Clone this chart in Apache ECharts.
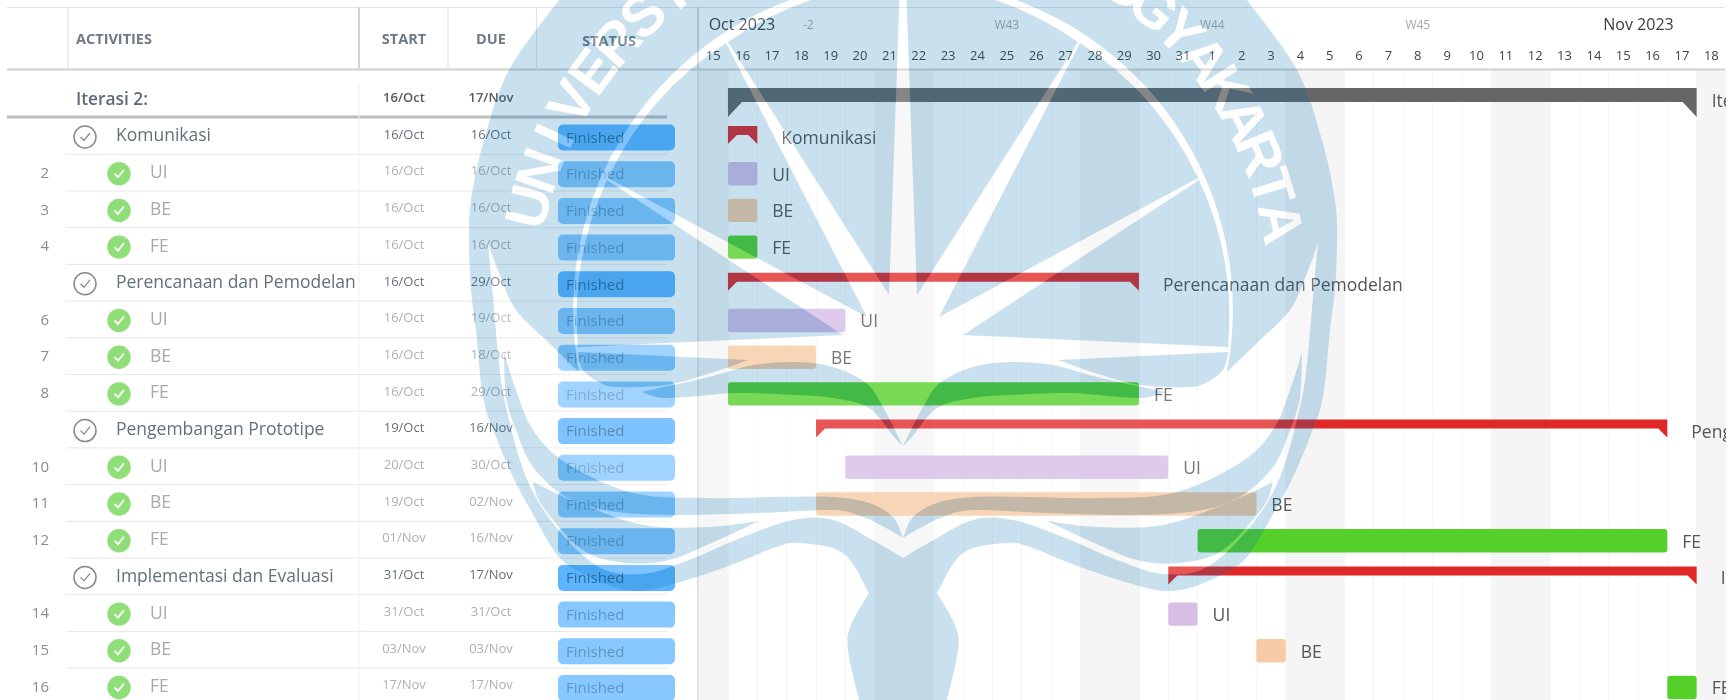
<!DOCTYPE html>
<html>
<head>
<meta charset="utf-8">
<title>Gantt Iterasi 2</title>
<script src="https://cdn.jsdelivr.net/npm/echarts@6/dist/echarts.min.js"></script>
<style>
  html, body { margin: 0; padding: 0; background: #fff; overflow: hidden; }
  #chart, #logo { position: absolute; left: 0; top: 0; width: 1733px; height: 700px; }
  #logo { opacity: 0.21; pointer-events: none; }
</style>
</head>
<body>
<div id="chart"></div>
<div id="logo"></div>
<script>
const dayCats = [
  '15/Oct', '16/Oct', '17/Oct', '18/Oct', '19/Oct', '20/Oct', '21/Oct', '22/Oct', '23/Oct', '24/Oct',
  '25/Oct', '26/Oct', '27/Oct', '28/Oct', '29/Oct', '30/Oct', '31/Oct', '01/Nov', '02/Nov', '03/Nov',
  '04/Nov', '05/Nov', '06/Nov', '07/Nov', '08/Nov', '09/Nov', '10/Nov', '11/Nov', '12/Nov', '13/Nov',
  '14/Nov', '15/Nov', '16/Nov', '17/Nov', '18/Nov',
]
const weekendDays = ['15/Oct', '21/Oct', '22/Oct', '28/Oct', '29/Oct', '04/Nov', '05/Nov', '11/Nov', '12/Nov', '18/Nov']
const weekLabels = ['-2', 'W43', 'W44', 'W45']
const weekDays = ['18/Oct', '25/Oct', '01/Nov', '08/Nov']
const monthLabels = ['Oct 2023', 'Nov 2023']
const monthDays = ['16/Oct', '15/Nov']

const rowNames = [
  'Iterasi 2:',
  'Komunikasi', 'UI', 'BE', 'FE',
  'Perencanaan dan Pemodelan', 'UI', 'BE', 'FE',
  'Pengembangan Prototipe', 'UI', 'BE', 'FE',
  'Implementasi dan Evaluasi', 'UI', 'BE', 'FE',
]
const rowLevels = [0, 1, 2, 2, 2, 1, 2, 2, 2, 1, 2, 2, 2, 1, 2, 2, 2]
const rowNumbers = ['', '', '2', '3', '4', '', '6', '7', '8', '', '10', '11', '12', '', '14', '15', '16']
const startDates = [
  '16/Oct',
  '16/Oct', '16/Oct', '16/Oct', '16/Oct',
  '16/Oct', '16/Oct', '16/Oct', '16/Oct',
  '19/Oct', '20/Oct', '19/Oct', '01/Nov',
  '31/Oct', '31/Oct', '03/Nov', '17/Nov',
]
const dueDates = [
  '17/Nov',
  '16/Oct', '16/Oct', '16/Oct', '16/Oct',
  '29/Oct', '19/Oct', '18/Oct', '29/Oct',
  '16/Nov', '30/Oct', '02/Nov', '16/Nov',
  '17/Nov', '31/Oct', '03/Nov', '17/Nov',
]
const statusLabel = 'Finished'

// layout of the page
const rowH = 36.7
const firstRowY = 100.3
const gridTop = 70
const tableW = 698.6
const yMin = (gridTop - firstRowY) / rowH
const yMax = (700 - firstRowY) / rowH
const font = "'Open Sans'"

const barColors = { UI: '#d6bee6', BE: '#f8cba6', FE: '#55cf2a' }

function text(str, x, y, size, color, align, weight) {
  return {
    type: 'text',
    style: {
      text: str, x: x, y: y, fill: color,
      font: (weight || 400) + ' ' + size + 'px ' + font,
      textAlign: align || 'left', textVerticalAlign: 'middle',
    },
  }
}

function renderBand(params, api) {
  const band = api.size([1, 0])[0]
  const c = api.coord([api.value(0), 0])
  return {
    type: 'rect',
    shape: { x: c[0] - band / 2, y: params.coordSys.y, width: band, height: params.coordSys.height },
    style: { fill: '#f5f5f5' },
  }
}

function renderBar(params, api) {
  const band = api.size([1, 0])[0]
  const row = api.value(2)
  const level = api.value(3)
  const x0 = api.coord([api.value(0), row])[0] - band / 2
  const x1 = api.coord([api.value(1), row])[0] + band / 2
  const y = api.coord([api.value(0), row])[1]
  const name = rowNames[row]
  const children = []
  if (level === 2) {
    children.push({
      type: 'rect',
      shape: { x: x0, y: y - 11.7, width: x1 - x0, height: 23.4, r: 3 },
      style: { fill: barColors[name] },
    })
    children.push(text(name, x1 + 15, y + 2, 17.5, '#555'))
  } else {
    const top = level === 0 ? y - 12.3 : y - 11
    const bottom = level === 0 ? y + 1.7 : y - 2
    const tip = level === 0 ? y + 16.7 : y + 7
    const w = level === 0 ? 14 : 9
    children.push({
      type: 'polygon',
      shape: {
        points: [[x0, top], [x1, top], [x1, tip], [x1 - w, bottom], [x0 + w, bottom], [x0, tip]],
      },
      style: { fill: level === 0 ? '#666666' : '#e12828' },
    })
    children.push(text(name, x1 + (level === 0 ? 15 : 24), y + 2, 17.5, '#555'))
  }
  return { type: 'group', children: children }
}

function renderHeader(params, api) {
  const children = []
  weekLabels.forEach(function (label, i) {
    const x = api.coord([dayCats.indexOf(weekDays[i]), 0])[0]
    children.push(text(label, i === 0 ? x + 7 : x, 26, 12, '#a8a8a8', 'center'))
  })
  monthLabels.forEach(function (label, i) {
    const x = api.coord([dayCats.indexOf(monthDays[i]), 0])[0]
    children.push(text(label, i === 0 ? x - 34 : x - 20, 25, 16, '#3c3c3c'))
  })
  return { type: 'group', children: children }
}

function renderRow(params, api) {
  const i = params.dataIndex
  const row = api.value(1)
  const y = api.coord([0, row])[1]
  const level = rowLevels[i]
  const children = []

  if (level === 0) {
    children.push(text(rowNames[i], 76, y, 17.3, '#5c6b77', 'left', 600))
    children.push(text(startDates[i], 404, y - 2, 13, '#5a5a5a', 'center', 600))
    children.push(text(dueDates[i], 491, y - 2, 13, '#5a5a5a', 'center', 600))
    children.push({
      type: 'line',
      shape: { x1: 7, y1: y + 16.7, x2: 667, y2: y + 16.7 },
      style: { stroke: '#bdbdbd', lineWidth: 3 },
    })
    return { type: 'group', children: children }
  }

  const parent = level === 1
  if (parent) {
    children.push({
      type: 'circle',
      shape: { cx: 85, cy: y, r: 11 },
      style: { fill: 'none', stroke: '#8a8a8a', lineWidth: 1.5 },
    })
    children.push({
      type: 'polyline',
      shape: { points: [[80.5, y], [84, y + 3.5], [90, y - 4]] },
      style: { fill: 'none', stroke: '#8a8a8a', lineWidth: 1.3 },
    })
  } else {
    children.push({
      type: 'circle',
      shape: { cx: 119, cy: y, r: 11.7 },
      style: { fill: '#90de78' },
    })
    children.push({
      type: 'polyline',
      shape: { points: [[114.5, y], [118, y + 3.5], [124, y - 4]] },
      style: { fill: 'none', stroke: '#fff', lineWidth: 1.8 },
    })
    children.push(text(rowNumbers[i], 49, y, 15, '#8c8c8c', 'right'))
  }
  children.push(text(rowNames[i], parent ? 116 : 150, y - 0.5, 17.5, parent ? '#64707a' : '#a9a9a9'))
  children.push(text(startDates[i], 404, y - 2, 13, parent ? '#66707a' : '#b0b0b0', 'center'))
  children.push(text(dueDates[i], 491, y - 2, 13, parent ? '#66707a' : '#b0b0b0', 'center'))
  children.push({
    type: 'rect',
    shape: { x: 558, y: y - 12.5, width: 117, height: 26, r: 5 },
    style: { fill: parent ? '#5cb4ff' : '#87c8ff' },
  })
  children.push(text(statusLabel, 566, y + 1.5, 15, parent ? '#2f6d9f' : '#5f96c2'))
  children.push({
    type: 'line',
    shape: { x1: 66, y1: y + 17.3, x2: 667, y2: y + 17.3 },
    style: { stroke: '#e8e8e8', lineWidth: 1 },
  })
  return { type: 'group', children: children }
}

function headerText(str, x, y, align) {
  return {
    type: 'text', x: x, y: y,
    style: { text: str, fill: '#6d7b86', font: "700 14.5px " + font, textAlign: align, textVerticalAlign: 'middle' },
  }
}

function frameLine(x1, y1, x2, y2, color, width) {
  return { type: 'line', shape: { x1: x1, y1: y1, x2: x2, y2: y2 }, style: { stroke: color, lineWidth: width }, z: 5 }
}

const chart = echarts.init(document.getElementById('chart'))
chart.setOption({
  animation: false,
  backgroundColor: '#fff',
  grid: [
    { left: tableW, right: 7, top: gridTop, height: 630 },
    { left: 0, width: tableW, top: gridTop, height: 630 },
  ],
  xAxis: [
    {
      type: 'category',
      gridIndex: 0,
      position: 'top',
      data: dayCats,
      axisTick: { show: false },
      axisLine: { show: false },
      axisLabel: {
        interval: 0,
        margin: 7,
        fontSize: 13,
        fontFamily: font,
        color: '#444',
        formatter: function (v) { return String(parseInt(v, 10)) },
      },
      splitLine: { show: true, interval: 0, lineStyle: { color: '#f6f6f6' } },
    },
    { type: 'value', gridIndex: 1, min: 0, max: tableW, show: false },
  ],
  yAxis: [
    { type: 'value', gridIndex: 0, inverse: true, min: yMin, max: yMax, show: false },
    { type: 'value', gridIndex: 1, inverse: true, min: yMin, max: yMax, show: false },
  ],
  graphic: {
    elements: [
      // the reference is cut off at its right side, bar labels too
      { type: 'rect', shape: { x: 1726, y: 0, width: 7, height: 700 }, style: { fill: '#fff' }, z: 100 },
      frameLine(7, 7.5, 1725, 7.5, '#e2e2e2', 1),
      frameLine(7, 69.5, 1725, 69.5, '#cfcfcf', 2),
      frameLine(68, 7, 68, 70, '#dcdcdc', 1),
      frameLine(359, 7, 359, 70, '#d4d4d4', 2),
      frameLine(448, 7, 448, 70, '#e2e2e2', 1),
      frameLine(536.5, 7, 536.5, 70, '#e2e2e2', 1),
      frameLine(359, 85, 359, 700, '#efefef', 1),
      frameLine(698, 7, 698, 70, '#d8d8d8', 2),
      frameLine(698, 70, 698, 700, '#e4e4e4', 2),
      headerText('ACTIVITIES', 76, 40, 'left'),
      headerText('START', 404, 40, 'center'),
      headerText('DUE', 491, 40, 'center'),
      headerText('STATUS', 609, 42, 'center'),
    ],
  },
  series: [
    {
      type: 'custom',
      renderItem: renderBand,
      xAxisIndex: 0,
      yAxisIndex: 0,
      silent: true,
      z: 1,
      data: weekendDays.map(function (d) { return [dayCats.indexOf(d)] }),
    },
    {
      type: 'custom',
      renderItem: renderHeader,
      xAxisIndex: 0,
      yAxisIndex: 0,
      silent: true,
      z: 2,
      data: [[0]],
    },
    {
      type: 'custom',
      renderItem: renderBar,
      xAxisIndex: 0,
      yAxisIndex: 0,
      encode: { x: [0, 1], y: 2 },
      silent: true,
      z: 3,
      clip: false,
      data: rowNames.map(function (name, i) {
        return [dayCats.indexOf(startDates[i]), dayCats.indexOf(dueDates[i]), i, rowLevels[i]]
      }),
    },
    {
      type: 'custom',
      renderItem: renderRow,
      xAxisIndex: 1,
      yAxisIndex: 1,
      encode: { x: 0, y: 1 },
      silent: true,
      z: 3,
      data: rowNames.map(function (name, i) { return [0, i] }),
    },
  ],
})

// ---- watermark logo, an overlay at low opacity (right half, mirrored around x=903)
const axisX = 903
const logoBlue = '#006eb0'

function curve(pts) {
  // catmull-rom through pts, the pen is already on pts[0]
  let d = ''
  for (let i = 0; i < pts.length - 1; i++) {
    const p0 = pts[Math.max(i - 1, 0)]
    const p1 = pts[i]
    const p2 = pts[i + 1]
    const p3 = pts[Math.min(i + 2, pts.length - 1)]
    d += 'C' + (p1[0] + (p2[0] - p0[0]) / 6) + ' ' + (p1[1] + (p2[1] - p0[1]) / 6) + ' ' +
      (p2[0] - (p3[0] - p1[0]) / 6) + ' ' + (p2[1] - (p3[1] - p1[1]) / 6) + ' ' + p2[0] + ' ' + p2[1]
  }
  return d
}

const outerEdge = [
  [1247, 0], [1297, 70], [1322, 140], [1335, 200], [1337, 240], [1335, 290], [1330, 330], [1323, 397],
  [1310, 437], [1293, 477], [1277, 507], [1247, 557], [1215, 578], [1180, 590], [1147, 588], [1080, 567],
  [1030, 547], [1007, 543], [963, 553], [937, 593],
]
const trunkEdge = [[937, 593], [955, 625], [958, 650], [947, 700]]
const innerEdge = [
  [903, 558], [930, 542], [973, 520], [1013, 520], [1063, 537], [1117, 560], [1163, 574], [1207, 567],
  [1250, 527], [1280, 477], [1300, 407], [1307, 363], [1313, 297], [1318, 243],
]
const ringEdge = [[1318, 243], [1307, 273], [1290, 310], [1257, 343], [1227, 372]]

const silhouette = 'M903 -20L1247 0' + curve(outerEdge) + curve(trunkEdge) + 'L903 700Z'
const ringAndBand = 'M1247 0' + curve(outerEdge) + curve(trunkEdge) + 'L903 700L903 558' +
  curve(innerEdge) + curve(ringEdge) + 'A330 330 0 0 0 903 -20Z'

const wedges = [
  'M917 295L906 -17A327 327 0 0 1 1078 42Z',
  'M939 317L1080 43A327 327 0 0 1 1198 178Z',
  'M963 335L1199 180A327 327 0 0 1 1228 347Z',
  'M1058 360L1228 352' + curve([[1228, 352], [1223, 370], [1207, 382], [1190, 387], [1140, 385], [1095, 373], [1058, 360]]) + 'Z',
]
const ribbons = [
  // top ribbon, ends in the point over the trunk
  'M903 446' + curve([[903, 446], [923, 407], [940, 383], [973, 367], [1010, 362], [1053, 365], [1097, 377], [1165, 392]]) +
    curve([[1165, 392], [1138, 398], [1070, 393], [1010, 395], [973, 398], [937, 408], [912, 437], [903, 446]]) + 'Z',
  // middle ribbon
  'M903 538' + curve([[903, 538], [913, 517], [937, 503], [973, 497], [1030, 497], [1097, 498], [1173, 493], [1240, 463], [1273, 430], [1290, 390], [1302, 352]]) +
    curve([[1302, 352], [1300, 397], [1290, 430], [1273, 467], [1240, 497], [1197, 511], [1130, 515], [1047, 513], [973, 510], [943, 517], [920, 528], [903, 538]]) + 'Z',
  // short ribbon under it
  'M1273 482' + curve([[1273, 482], [1230, 502], [1163, 525], [1097, 527], [1047, 521]]) +
    curve([[1047, 521], [1090, 541], [1137, 560], [1180, 563], [1223, 550], [1263, 507], [1273, 482]]) + 'Z',
]

function halves(d, fill) {
  return [
    { type: 'path', shape: { pathData: d }, style: { fill: fill } },
    { type: 'path', shape: { pathData: d }, style: { fill: fill }, originX: axisX, originY: 0, scaleX: -1 },
  ]
}

function letters(word, sign, startDeg, stepDeg) {
  // sign -1: left side, reading upwards; sign 1: right side, word given from its last letter
  return word.split('').map(function (ch, i) {
    const deg = startDeg + stepDeg * i
    const a = deg * Math.PI / 180
    return {
      type: 'text',
      x: axisX + sign * 382 * Math.cos(a),
      y: 300 - 382 * Math.sin(a),
      rotation: -sign * (90 - deg) * Math.PI / 180,
      style: {
        text: ch, fill: '#fff', font: "700 58px 'Liberation Sans'",
        textAlign: 'center', textVerticalAlign: 'middle',
      },
    }
  })
}

let logoElements = halves(silhouette, '#fff').concat(halves(ringAndBand, logoBlue))
wedges.concat(ribbons).forEach(function (d) {
  logoElements = logoElements.concat(halves(d, logoBlue))
})
logoElements = logoElements
  .concat(letters('UNIVERSI', -1, 14, 5.6))
  .concat(letters('ATRAKAYGO', 1, 11.6, 5.4))

const logo = echarts.init(document.getElementById('logo'))
logo.setOption({
  animation: false,
  xAxis: { show: false },
  series: [{
    type: 'custom',
    coordinateSystem: 'none',
    silent: true,
    clip: false,
    data: [[0]],
    renderItem: function () {
      return { type: 'group', children: logoElements }
    },
  }],
})
</script>
</body>
</html>
